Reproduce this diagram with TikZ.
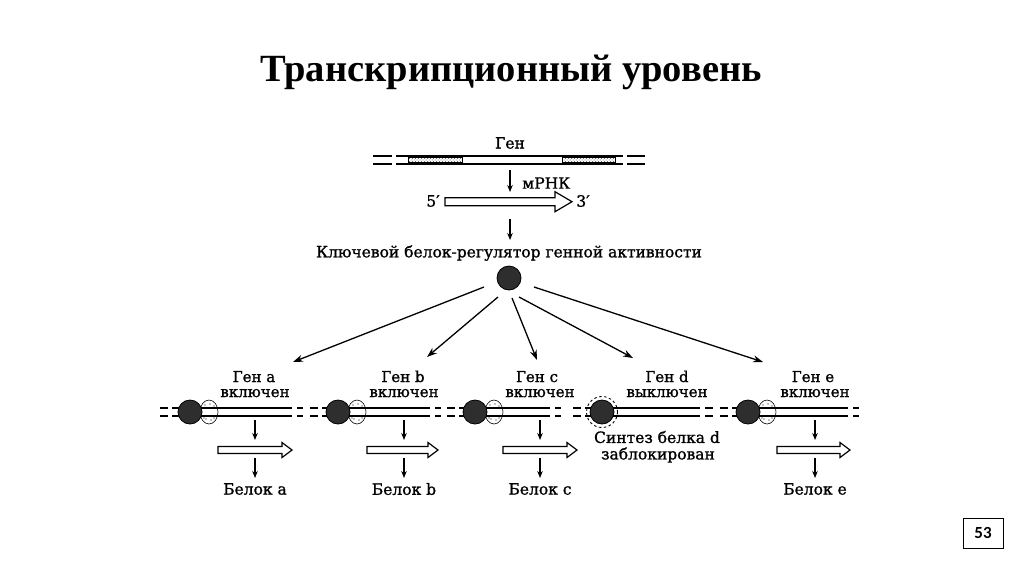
\documentclass[tikz,border=0pt]{standalone}
\usepackage{fontspec}
\setmainfont{DejaVu Serif}[FakeBold=1.2]
\newfontfamily\titlefont{Liberation Serif}
\newfontfamily\numfont{Carlito}
\usetikzlibrary{arrows.meta,patterns}
\tikzset{
  dl/.style={line width=1.7pt},
  darrow/.style={-{Stealth[length=7pt,width=5.5pt]}, line width=1.1pt},
  fan/.style={-{Stealth[length=10pt,width=7pt]}, line width=1.3pt},
  hollow/.style={draw, line width=1.2pt, fill=white},
  lbl/.style={font=\fontsize{15.5}{16}\selectfont, inner sep=0pt},
  glbl/.style={font=\fontsize{15}{15}\selectfont, inner sep=0pt, anchor=base},
  regc/.style={circle, draw=black, line width=0.8pt, fill=black!82, minimum size=24pt, inner sep=0pt},
}
\newcommand\harrow[6]{% x1, x2, y, body half, head half, head length
  \draw[hollow] (#1,{#3-#4}) -- ({#2-#6},{#3-#4}) -- ({#2-#6},{#3-#5}) -- (#2,#3)
    -- ({#2-#6},{#3+#5}) -- ({#2-#6},{#3+#4}) -- (#1,{#3+#4}) -- cycle;}
\newcommand\dbl[3]{% x1, x2, y (center)
  \draw[dl] (#1,{#3-4}) -- (#2,{#3-4}); \draw[dl] (#1,{#3+4}) -- (#2,{#3+4});}
\newcommand\geneon[4]{% xs, xc, xe, name
  \dbl{#1}{#1+8}{412}
  \dbl{#1+12}{#2}{412}
  \draw[line width=0.6pt, fill=white] ({#2+19},412) ellipse (9 and 12);
  \foreach \dx/\dy in {-4/-7,1/-8,5/-6,-3/7,2/8,5/6,-5/6}{\fill ({#2+19+\dx},{412+\dy}) circle (0.7);}
  \dbl{#2}{#3}{412}
  \dbl{#3+5}{#3+11}{412}
  \node[regc] (#4) at (#2,412) {};}
\begin{document}
\begin{tikzpicture}[x=1pt,y=-1pt]
\useasboundingbox (0,0) rectangle (1024,574);
\fill[white] (0,0) rectangle (1024,574);
% title
\node[inner sep=0pt, font=\titlefont\bfseries\fontsize{38.5}{40}\selectfont] (title) at (511,72) {Транскрипционный уровень};
% top gene
\dbl{373}{392}{160}
\dbl{396}{623}{160}
\dbl{627}{645}{160}
\draw[line width=0.5pt, pattern=crosshatch dots, pattern color=black!70] (408,157.6) rectangle (462,162.4);
\draw[line width=0.5pt, pattern=crosshatch dots, pattern color=black!70] (562,157.6) rectangle (615,162.4);
\node[lbl] (gen) at (510,143) {Ген};
\coordinate (g1) at (510,170);
\coordinate (g2) at (510,192);
\draw[darrow] (g1) -- (g2);
\node[lbl, anchor=west] (mrna) at (522,183) {мРНК};
\harrow{445}{572}{201.7}{4}{10}{17}
\node[lbl] (five) at (433,201) {5′};
\node[lbl] (three) at (583,201) {3′};
\coordinate (g3) at (510,219);
\coordinate (g4) at (510,240);
\draw[darrow] (g3) -- (g4);
\node[lbl] (key) at (509,253) {Ключевой белок-регулятор генной активности};
\node[regc] (reg) at (509,278) {};
% fan arrows
\coordinate (sa) at (484,287); \coordinate (ta) at (293,362);
\coordinate (sb) at (498,297); \coordinate (tb) at (427,357);
\coordinate (sc) at (512,298); \coordinate (tc) at (537,360);
\coordinate (sd) at (519,297); \coordinate (td) at (633,358);
\coordinate (se) at (534,287); \coordinate (te) at (763,362);
\draw[fan] (sa) -- (ta);
\draw[fan] (sb) -- (tb);
\draw[fan] (sc) -- (tc);
\draw[fan] (sd) -- (td);
\draw[fan] (se) -- (te);
% genes on
\geneon{160}{190}{292}{ca}
\geneon{310}{338}{430}{cb}
\geneon{447}{475}{550}{cc}
\geneon{720}{748}{848}{ce}
% gene d (off)
\dbl{573}{581}{412}
\dbl{585}{602}{412}
\draw[dl] (700,408) -- (613,408) -- (613,416) -- (700,416);
\dbl{705}{713}{412}
\node[regc] (cd) at (602,412) {};
\draw[line width=0.9pt, dash pattern=on 2.5pt off 2.5pt] (602,412) circle (15.5);
% labels
\foreach \n/\x/\ax/\ha/\hb/\l in {a/254/255/218/292/a, b/403/404/367/438/b, c/537/540/503/577/c, e/813/815/777/850/e}{
  \node[glbl] (h\n) at (\x,382) {Ген \l};
  \node[glbl] (v\n) at (\ax,397) {включен};
  \coordinate (u\n1) at (\ax,420); \coordinate (u\n2) at (\ax,440);
  \draw[darrow] (u\n1) -- (u\n2);
  \harrow{\ha}{\hb}{450}{3.5}{7.5}{10}
  \coordinate (w\n1) at (\ax,458); \coordinate (w\n2) at (\ax,478);
  \draw[darrow] (w\n1) -- (w\n2);
  \node[lbl] (p\n) at (\ax,489) {Белок \l};
}
\node[glbl] (hd) at (667,382) {Ген d};
\node[glbl] (vd) at (667,397) {выключен};
\node[lbl] (sd1) at (657,437) {Синтез белка d};
\node[lbl] (sd2) at (658,455) {заблокирован};
% page number
\node[draw, line width=0.9pt, minimum width=40pt, minimum height=30pt, inner sep=0pt, font=\numfont\bfseries\fontsize{17}{17}\selectfont] (num) at (983,533) {53};
\end{tikzpicture}
\end{document}
